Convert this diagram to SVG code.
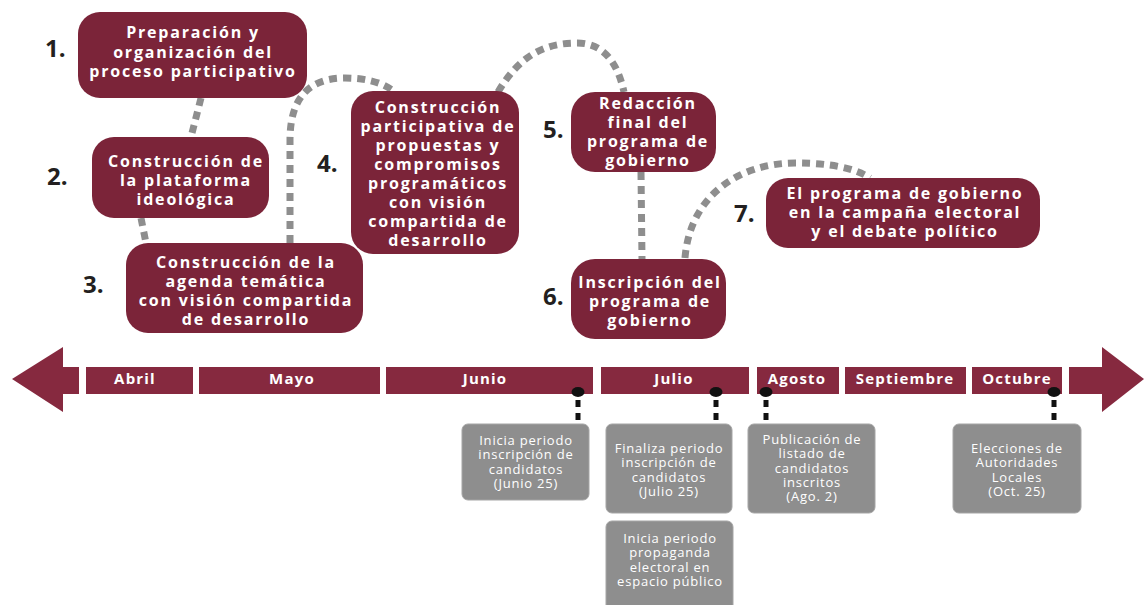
<svg xmlns="http://www.w3.org/2000/svg" width="1144" height="605" viewBox="0 0 1144 605">
<style>
.node{fill:#7b2439}
.nt{font-family:"Open Sans","Noto Sans",sans-serif;font-weight:700;font-size:16px;letter-spacing:1.8px;fill:#fff;text-anchor:middle}
.num{font-family:"Open Sans","Noto Sans",sans-serif;font-weight:700;font-size:24px;fill:#231f20}
.conn{fill:none;stroke:#8e8e8e;stroke-width:7;stroke-dasharray:8 6}
.bar{fill:#86293f}
.mt{font-family:"Open Sans","Noto Sans",sans-serif;font-weight:700;font-size:15px;letter-spacing:1.2px;fill:#fff;text-anchor:middle}
.gbox{fill:#8e8e8e;stroke:#a5a5a5;stroke-width:1}
.gt{font-family:"Open Sans","Noto Sans",sans-serif;font-size:13px;letter-spacing:0.8px;fill:#fff;text-anchor:middle}
.dot{fill:#111}
.tick{stroke:#111;stroke-width:5;stroke-dasharray:7 6;fill:none}
</style>
<rect width="1144" height="605" fill="#fff"/>
<g id="connectors">
<path class="conn" d="M201,98 L191,137"/>
<path class="conn" d="M141,218 L146,243"/>
<path class="conn" d="M290,243 L290,140 Q290,78 345,78 Q375,78 392,90"/>
<path class="conn" d="M498,92 C520,55 545,43 577,43 C605,43 618,65 624,92"/>
<path class="conn" d="M641,172 L642,259"/>
<path class="conn" d="M685,258 C690,195 740,163 795,163 C830,163 855,168 870,178"/>
</g>
<g id="node1">
<rect class="node" x="78" y="12" width="229" height="86" rx="22"/>
<text class="nt" y="38"><tspan x="193">Preparación y</tspan><tspan x="193" dy="19.5">organización del</tspan><tspan x="193" dy="19.5">proceso participativo</tspan></text>
<text class="num" x="45" y="57">1.</text>
</g>
<g id="node2">
<rect class="node" x="92" y="137" width="177" height="81" rx="22"/>
<text class="nt" y="167"><tspan x="186">Construcción de</tspan><tspan x="186" dy="19">la plataforma</tspan><tspan x="186" dy="19">ideológica</tspan></text>
<text class="num" x="47" y="185">2.</text>
</g>
<g id="node3">
<rect class="node" x="126" y="243" width="237" height="90" rx="22"/>
<text class="nt" y="268"><tspan x="246">Construcción de la</tspan><tspan x="246" dy="19">agenda temática</tspan><tspan x="246" dy="19">con visión compartida</tspan><tspan x="246" dy="19">de desarrollo</tspan></text>
<text class="num" x="83" y="293">3.</text>
</g>
<g id="node4">
<rect class="node" x="351" y="91" width="168" height="163" rx="22"/>
<text class="nt" y="113"><tspan x="438">Construcción</tspan><tspan x="438" dy="19">participativa de</tspan><tspan x="438" dy="19">propuestas y</tspan><tspan x="438" dy="19">compromisos</tspan><tspan x="438" dy="19">programáticos</tspan><tspan x="438" dy="19">con visión</tspan><tspan x="438" dy="19">compartida de</tspan><tspan x="438" dy="19">desarrollo</tspan></text>
<text class="num" x="317" y="172">4.</text>
</g>
<g id="node5">
<rect class="node" x="571" y="92" width="145" height="80" rx="24"/>
<text class="nt" y="109"><tspan x="648">Redacción</tspan><tspan x="648" dy="19">final del</tspan><tspan x="648" dy="19">programa de</tspan><tspan x="648" dy="19">gobierno</tspan></text>
<text class="num" x="543" y="138">5.</text>
</g>
<g id="node6">
<rect class="node" x="571" y="259" width="155" height="80" rx="24"/>
<text class="nt" y="288"><tspan x="650">Inscripción del</tspan><tspan x="650" dy="19">programa de</tspan><tspan x="650" dy="19">gobierno</tspan></text>
<text class="num" x="543" y="305">6.</text>
</g>
<g id="node7">
<rect class="node" x="766" y="178" width="274" height="70" rx="22"/>
<text class="nt" y="199"><tspan x="905">El programa de gobierno</tspan><tspan x="905" dy="19">en la campaña electoral</tspan><tspan x="905" dy="19">y el debate político</tspan></text>
<text class="num" x="734" y="222">7.</text>
</g>
<g id="timeline">
<polygon class="bar" points="12,379 63,347 63,367 79,367 79,394 63,394 63,412"/>
<polygon class="bar" points="1069,367 1102,367 1102,347 1144,379 1102,412 1102,394 1069,394"/>
<rect class="bar" x="86" y="367" width="107" height="27"/>
<rect class="bar" x="199" y="367" width="181" height="27"/>
<rect class="bar" x="386" y="367" width="207" height="27"/>
<rect class="bar" x="601" y="367" width="148" height="27"/>
<rect class="bar" x="757" y="367" width="82" height="27"/>
<rect class="bar" x="845" y="367" width="121" height="27"/>
<rect class="bar" x="972" y="367" width="90" height="27"/>
<text class="mt" x="135" y="384">Abril</text>
<text class="mt" x="292" y="384">Mayo</text>
<text class="mt" x="485" y="384">Junio</text>
<text class="mt" x="674" y="384">Julio</text>
<text class="mt" x="797" y="384">Agosto</text>
<text class="mt" x="905" y="384">Septiembre</text>
<text class="mt" x="1017" y="384">Octubre</text>
</g>
<g id="markers">
<ellipse class="dot" cx="578" cy="392" rx="6.5" ry="5"/>
<ellipse class="dot" cx="716" cy="392" rx="6.5" ry="5"/>
<ellipse class="dot" cx="766" cy="392" rx="6.5" ry="5"/>
<ellipse class="dot" cx="1054" cy="392" rx="6.5" ry="5"/>
<line class="tick" x1="578" y1="400" x2="578" y2="420"/>
<line class="tick" x1="716" y1="400" x2="716" y2="420"/>
<line class="tick" x1="766" y1="400" x2="766" y2="420"/>
<line class="tick" x1="1054" y1="400" x2="1054" y2="420"/>
</g>
<g id="eventA">
<rect class="gbox" x="462" y="424" width="127" height="76" rx="6"/>
<text class="gt" y="445"><tspan x="526">Inicia periodo</tspan><tspan x="526" dy="14.3">inscripción de</tspan><tspan x="526" dy="14.3">candidatos</tspan><tspan x="526" dy="14.3">(Junio 25)</tspan></text>
</g>
<g id="eventB">
<rect class="gbox" x="606" y="424" width="126" height="89" rx="6"/>
<text class="gt" y="453"><tspan x="669">Finaliza periodo</tspan><tspan x="669" dy="14.3">inscripción de</tspan><tspan x="669" dy="14.3">candidatos</tspan><tspan x="669" dy="14.3">(Julio 25)</tspan></text>
</g>
<g id="eventC">
<rect class="gbox" x="748" y="424" width="127" height="89" rx="6"/>
<text class="gt" y="444"><tspan x="812">Publicación de</tspan><tspan x="812" dy="14.3">listado de</tspan><tspan x="812" dy="14.3">candidatos</tspan><tspan x="812" dy="14.3">inscritos</tspan><tspan x="812" dy="14.3">(Ago. 2)</tspan></text>
</g>
<g id="eventD">
<rect class="gbox" x="953" y="424" width="128" height="89" rx="6"/>
<text class="gt" y="453"><tspan x="1017">Elecciones de</tspan><tspan x="1017" dy="14.3">Autoridades</tspan><tspan x="1017" dy="14.3">Locales</tspan><tspan x="1017" dy="14.3">(Oct. 25)</tspan></text>
</g>
<g id="eventE">
<rect class="gbox" x="606" y="521" width="127" height="95" rx="6"/>
<text class="gt" y="543"><tspan x="670">Inicia periodo</tspan><tspan x="670" dy="14.3">propaganda</tspan><tspan x="670" dy="14.3">electoral en</tspan><tspan x="670" dy="14.3">espacio público</tspan></text>
</g>
</svg>
